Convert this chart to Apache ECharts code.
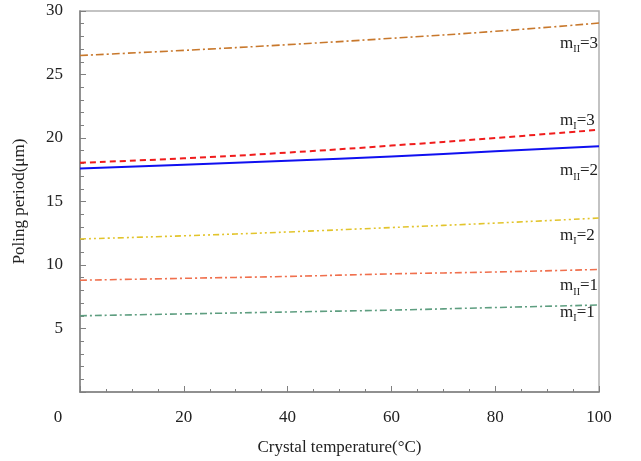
<!DOCTYPE html>
<html><head><meta charset="utf-8">
<script src="https://cdn.jsdelivr.net/npm/echarts@6/dist/echarts.min.js"></script>
<style>html,body{margin:0;padding:0;background:#fff}#c{width:641px;height:461px}</style>
</head><body><div id="c"></div>
<script>
const temps = [0, 20, 40, 60, 80, 100];
const mII3 = [26.5, 26.9, 27.35, 27.85, 28.4, 29.05];
const mI3 = [18.05, 18.4, 18.85, 19.4, 20.0, 20.65];
const mII2 = [17.6, 17.9, 18.2, 18.55, 18.95, 19.35];
const mI2 = [12.05, 12.3, 12.6, 12.95, 13.3, 13.7];
const mII1 = [8.8, 8.95, 9.1, 9.3, 9.45, 9.65];
const mI1 = [6.0, 6.15, 6.3, 6.45, 6.65, 6.85];
const labelSubs = ['II', 'I', 'II', 'I', 'II', 'I'];
const labelOrders = ['3', '3', '2', '2', '1', '1'];
const labelX = [92.5, 92.5, 92.5, 92.5, 92.5, 92.5];
const labelY = [27.45, 21.35, 17.4, 12.3, 8.35, 6.25];
const xTicks = [0, 20, 40, 60, 80, 100];
const yTicks = [0, 5, 10, 15, 20, 25, 30];

const serif = '"Liberation Serif","DejaVu Serif",serif';
const seriesData = [mII3, mI3, mII2, mI2, mII1, mI1];
const colors = ['#c8782c', '#f01c1c', '#1010f0', '#e2c42c', '#f0704e', '#5e9e80'];
const types = [[8,3,2,3], [6,4], 'solid', [6,3,2,3,2,3], [7,3,2,3], [7,3,2,3]];
const widths = [1.6, 2, 2, 1.6, 1.6, 1.6];

const series = seriesData.map((vals, i) => ({
  type: 'line',
  data: temps.map((t, j) => [t, vals[j]]),
  showSymbol: false,
  smooth: true,
  lineStyle: { color: colors[i], width: widths[i], type: types[i] },
  markPoint: {
    symbol: 'circle', symbolSize: 0,
    data: [{ coord: [labelX[i], labelY[i]] }],
    label: {
      show: true, position: 'right', distance: 0,
      formatter: '{m|m}{s|' + labelSubs[i] + '}{m|=' + labelOrders[i] + '}',
      rich: {
        m: { fontFamily: serif, fontSize: 17, color: '#222', lineHeight: 22, verticalAlign: 'middle' },
        s: { fontFamily: serif, fontSize: 10, color: '#222', lineHeight: 10, padding: [14, 0, 0, 0], verticalAlign: 'bottom' }
      }
    }
  }
}));

const chart = echarts.init(document.getElementById('c'));
chart.setOption({
  animation: false,
  grid: { left: 80, right: 42, top: 11, bottom: 62, show: true, borderColor: '#b0b0b0', borderWidth: 1.5 },
  xAxis: {
    type: 'value', min: 0, max: 100, interval: 20,
    name: 'Crystal temperature(°C)', nameLocation: 'middle', nameGap: 47,
    nameTextStyle: { fontFamily: serif, fontSize: 17, color: '#222' },
    axisLine: { show: true, lineStyle: { color: '#808080', width: 1.5 } },
    axisTick: { show: true, inside: true, length: 6, lineStyle: { color: '#808080' } },
    minorTick: { show: true, splitNumber: 4, length: 3, lineStyle: { color: '#808080' } },
    splitLine: { show: false },
    axisLabel: {
      fontFamily: serif, fontSize: 17, color: '#222', margin: 17,
      customValues: xTicks,
      formatter: v => v === 0 ? '{z|0}' : String(v),
      rich: { z: { fontFamily: serif, fontSize: 17, color: '#222', padding: [0, 44, 0, 0] } }
    }
  },
  yAxis: {
    type: 'value', min: 0, max: 30, interval: 5,
    name: 'Poling period(μm)', nameLocation: 'middle', nameGap: 52,
    nameTextStyle: { fontFamily: serif, fontSize: 17, color: '#222' },
    axisLine: { show: true, lineStyle: { color: '#808080', width: 1.5 } },
    axisTick: { show: true, inside: true, length: 6, lineStyle: { color: '#808080' } },
    minorTick: { show: true, splitNumber: 5, length: 4, lineStyle: { color: '#808080' } },
    splitLine: { show: false },
    axisLabel: {
      fontFamily: serif, fontSize: 17, color: '#222', margin: 17,
      formatter: v => (v === 0 ? '' : (yTicks.indexOf(v) >= 0 ? String(v) : ''))
    }
  },
  series: series
});
</script></body></html>
